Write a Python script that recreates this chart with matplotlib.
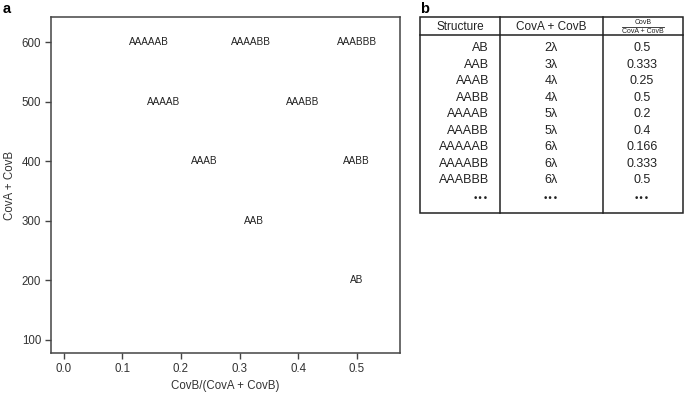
import matplotlib.pyplot as plt
from matplotlib.patches import Rectangle

plt.rcParams["font.family"] = ["Liberation Sans", "DejaVu Sans"]

# panel a: structure labels placed at (fraction, coverage)
labels = ["AAAAAB", "AAAABB", "AAABBB", "AAAAB", "AAABB", "AAAB", "AABB", "AAB", "AB"]
frac_x = [0.145, 0.32, 0.5, 0.171, 0.408, 0.24, 0.5, 0.325, 0.5]
cov_y = [600, 600, 600, 500, 500, 400, 400, 300, 200]

x_ticks = [0.0, 0.1, 0.2, 0.3, 0.4, 0.5]
y_ticks = [100, 200, 300, 400, 500, 600]

# panel b: table
structures = ["AB", "AAB", "AAAB", "AABB", "AAAAB", "AAABB", "AAAAAB", "AAAABB", "AAABBB"]
coverage = ["2λ", "3λ", "4λ", "4λ", "5λ", "5λ", "6λ", "6λ", "6λ"]
fractions = ["0.5", "0.333", "0.25", "0.5", "0.2", "0.4", "0.166", "0.333", "0.5"]

W, H = 685, 394
fig = plt.figure(figsize=(6.85, 3.94), dpi=100)

ax = fig.add_axes([51 / W, 1 - 353 / H, 349 / W, 336 / H])
for lab, x, y in zip(labels, frac_x, cov_y):
    ax.text(x, y, lab, ha="center", va="center", fontsize=7.2, color="#222222")
ax.set_xlim(-0.022, 0.574)
ax.set_ylim(78, 642)
ax.set_xticks(x_ticks)
ax.set_xticklabels([f"{t:.1f}" for t in x_ticks])
ax.set_yticks(y_ticks)
ax.tick_params(labelsize=8.3, length=4, width=1, color="#444444", labelcolor="#333333", pad=3)
for sp in ax.spines.values():
    sp.set_color("#444444")
    sp.set_linewidth(1.1)
ax.set_xlabel("CovB/(CovA + CovB)", fontsize=8.3, color="#333333", labelpad=4)
ax.set_ylabel("CovA + CovB", fontsize=8.3, color="#333333", labelpad=4)

fig.text(3 / W, 1 - 9 / H, "a", fontsize=10.5, fontweight="bold", va="center", ha="left")
fig.text(420 / W, 1 - 9 / H, "b", fontsize=10.5, fontweight="bold", va="center", ha="left")

# table drawn in pixel coordinates
tb = fig.add_axes([0, 0, 1, 1])
tb.set_xlim(0, W)
tb.set_ylim(H, 0)
tb.axis("off")
left, right, top, head, bottom = 420, 683, 17, 35, 213
col1, col2 = 500, 603
lc = "#222222"
tb.add_patch(Rectangle((left, top), right - left, bottom - top, fill=False, lw=1.1, ec=lc))
tb.plot([left, right], [head, head], color=lc, lw=1.1)
tb.plot([col1, col1], [top, bottom], color=lc, lw=1.1)
tb.plot([col2, col2], [top, bottom], color=lc, lw=1.1)

fs = 9
tb.text(460, 26.5, "Structure", fontsize=8.5, ha="center", va="center", color=lc)
tb.text(551, 26.5, "CovA + CovB", fontsize=8.5, ha="center", va="center", color=lc)
tb.text(643, 22.5, "CovB", fontsize=5, ha="center", va="center", color=lc)
tb.plot([622, 664], [26.5, 26.5], color=lc, lw=0.6)
tb.text(643, 31, "CovA + CovB", fontsize=5, ha="center", va="center", color=lc)

row0, step = 48, 16.5
for i, (s, c, f) in enumerate(zip(structures, coverage, fractions)):
    y = row0 + i * step
    tb.text(489, y, s, fontsize=fs, ha="right", va="center", color=lc)
    tb.text(551, y, c, fontsize=fs, ha="center", va="center", color=lc)
    tb.text(642, y, f, fontsize=fs, ha="center", va="center", color=lc)
y = row0 + len(structures) * step + 2
for xx, ha in [(489, "right"), (551, "center"), (642, "center")]:
    tb.text(xx, y, "\u2022\u2022\u2022", fontsize=6.5, ha=ha, va="center", color=lc,
            family=["DejaVu Sans"])

fig.savefig("out.png", dpi=100)
